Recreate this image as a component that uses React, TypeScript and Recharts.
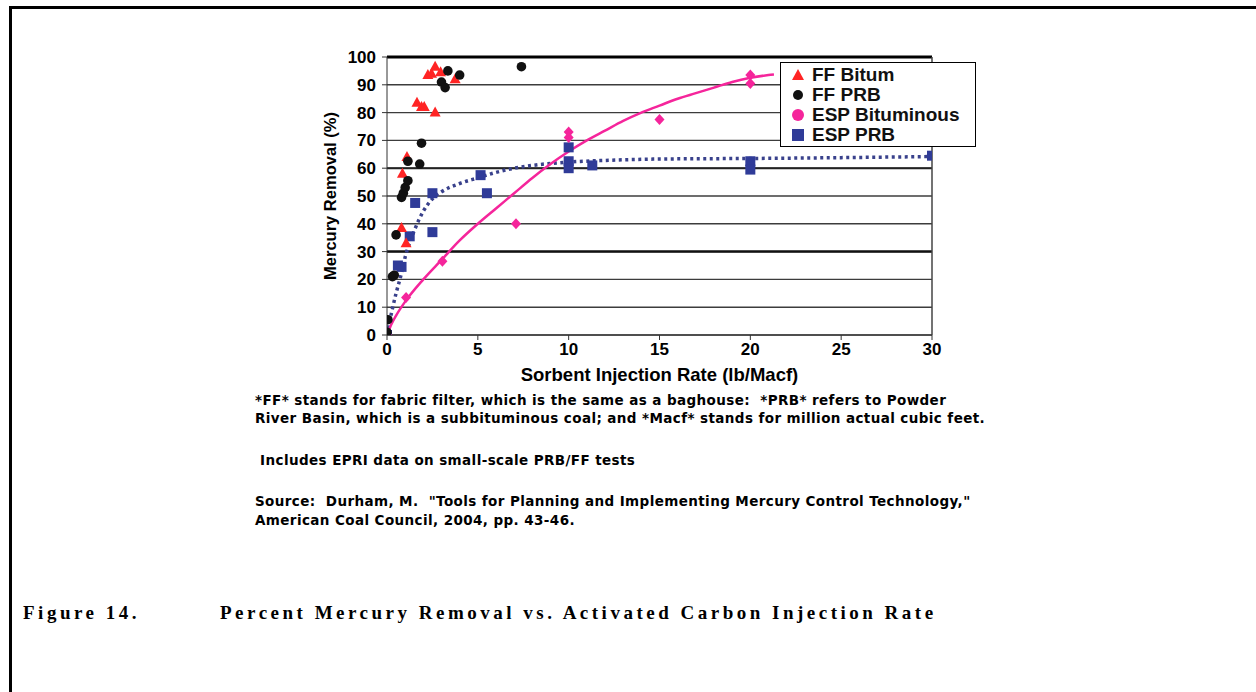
import React from 'react';
import { ComposedChart, Scatter, Line, XAxis, YAxis, CartesianGrid, ReferenceLine } from 'recharts';

const ffBitumRate = [0, 0.8, 1.05, 0.85, 1.1, 1.65, 1.9, 2.05, 2.65, 2.25, 2.45, 2.65, 2.95, 3.75];
const ffBitumRemoval = [0, 38.5, 33, 58, 64, 83.5, 82, 82, 80, 93.5, 94, 96.5, 94.5, 92];

const ffPrbRate = [0, 0.05, 0.3, 0.4, 0.5, 0.8, 0.9, 1.0, 1.15, 1.15, 1.8, 1.9, 3.0, 3.2, 3.35, 4.0, 7.4];
const ffPrbRemoval = [1, 5.5, 21, 21.5, 36, 49.5, 51, 53, 55.5, 62.5, 61.5, 69, 91, 89, 95, 93.5, 96.5];

const espBitRate = [0, 1.05, 3.05, 7.1, 10, 10, 15, 20, 20];
const espBitRemoval = [0, 13.5, 26.5, 40, 73, 71, 77.5, 93.5, 90.5];

const espPrbRate = [0, 0.6, 0.8, 1.25, 1.55, 2.5, 2.5, 5.15, 5.5, 10, 10, 10, 11.3, 20, 20, 30];
const espPrbRemoval = [0, 25, 24.5, 35.5, 47.5, 51, 37, 57.5, 51, 67.5, 62.5, 60, 61, 62.5, 59.5, 64.5];

// trend lines as drawn in the figure
const espBitTrendRate = [0, 0.25, 0.5, 1, 2, 3, 4, 5, 6, 7, 8, 9, 10, 11, 12, 13, 14, 15, 16, 17, 18, 19, 20, 21, 21.3];
const espBitTrendRemoval = [0, 4, 7, 12, 20, 27, 34, 40, 45.5, 51, 56.5, 61.5, 66, 70, 73.5, 77, 80, 82.5, 85, 87, 89, 91, 92.5, 93.5, 93.7];

const espPrbTrendRate = [0, 0.25, 0.5, 0.75, 1, 1.5, 2, 2.5, 3, 4, 5, 6, 7, 8, 10, 12, 15, 20, 25, 30];
const espPrbTrendRemoval = [0, 8, 15, 21, 28, 37.5, 44.5, 49, 51.5, 54.5, 56.5, 58.5, 60, 61, 62.2, 62.8, 63.3, 63.5, 63.8, 64.2];

const xTicks = [0, 5, 10, 15, 20, 25, 30];
const yTicks = [0, 10, 20, 30, 40, 50, 60, 70, 80, 90, 100];

const legendItems = ['FF Bitum', 'FF PRB', 'ESP Bituminous', 'ESP PRB'];

const notes = [
  '*FF* stands for fabric filter, which is the same as a baghouse:  *PRB* refers to Powder',
  'River Basin, which is a subbituminous coal; and *Macf* stands for million actual cubic feet.',
  ' Includes EPRI data on small-scale PRB/FF tests',
  'Source:  Durham, M.  "Tools for Planning and Implementing Mercury Control Technology,"',
  'American Coal Council, 2004, pp. 43-46.',
];

const pair = (xs: number[], ys: number[]) => xs.map((x, i) => ({ x, y: ys[i] }));

const RED = '#ff2424';
const PINK = '#f5259b';
const NAVY = '#2f3b98';
const SANS = '"Liberation Sans", Arial, sans-serif';
const SERIF = '"Liberation Serif", "Times New Roman", serif';

const Triangle = (p: any) => (
  <polygon points={`${p.cx},${p.cy - 6} ${p.cx - 5.5},${p.cy + 4} ${p.cx + 5.5},${p.cy + 4}`} fill={RED} />
);
const Dot = (p: any) => <circle cx={p.cx} cy={p.cy} r={4.8} fill="#111" />;
const Diamond = (p: any) => (
  <polygon points={`${p.cx},${p.cy - 5.5} ${p.cx + 5},${p.cy} ${p.cx},${p.cy + 5.5} ${p.cx - 5},${p.cy}`} fill={PINK} />
);
const Square = (p: any) => <rect x={p.cx - 5} y={p.cy - 5} width={10} height={10} fill={NAVY} />;

function LegendBox() {
  const marks = [
    <polygon key="t" points="7,1 1,12 13,12" fill={RED} />,
    <circle key="c" cx={7} cy={7} r={5} fill="#111" />,
    <circle key="d" cx={7} cy={7} r={6} fill={PINK} />,
    <rect key="s" x={1} y={1} width={12} height={12} fill={NAVY} />,
  ];
  return (
    <div style={{ position: 'absolute', left: 780, top: 62, width: 194, height: 81, border: '1.5px solid #000', background: '#fff', paddingTop: 1.5 }}>
      {legendItems.map((name, i) => (
        <div key={name} style={{ display: 'flex', alignItems: 'center', height: 20 }}>
          <svg width={14} height={14} style={{ marginLeft: 10, marginRight: 7 }}>{marks[i]}</svg>
          <span style={{ fontFamily: SANS, fontWeight: 'bold', fontSize: 19, color: '#111' }}>{name}</span>
        </div>
      ))}
    </div>
  );
}

export default function App() {
  const tick = { fill: '#000', fontSize: 17, fontWeight: 'bold', fontFamily: SANS };
  const noteTops = [391, 409, 451, 492, 511];
  return (
    <div style={{ position: 'absolute', left: 0, top: 0, width: 1256, height: 692, overflow: 'hidden', background: '#fff' }}>
      <div style={{ position: 'absolute', left: 9, top: 6, width: 1300, height: 720, borderLeft: '3px solid #000', borderTop: '3px solid #000' }} />
      <div style={{ position: 'absolute', left: 260, top: 36 }}>
        <ComposedChart width={700} height={360} margin={{ top: 21, right: 28, bottom: 31, left: 13 }}>
          <CartesianGrid vertical={false} stroke="#3c3c3c" strokeWidth={1.4} />
          <XAxis
            dataKey="x"
            type="number"
            domain={[0, 30]}
            ticks={xTicks}
            tick={tick}
            tickSize={5}
            tickMargin={3}
            height={30}
            stroke="#333"
            allowDataOverflow
            label={{ value: 'Sorbent Injection Rate (lb/Macf)', position: 'bottom', offset: 3, fill: '#000', fontSize: 18.5, fontWeight: 'bold', fontFamily: SANS }}
          />
          <YAxis
            dataKey="y"
            type="number"
            domain={[0, 100]}
            ticks={yTicks}
            tick={tick}
            tickSize={5}
            tickMargin={6}
            width={114}
            stroke="#333"
            allowDataOverflow
            label={{ value: 'Mercury Removal (%)', angle: -90, position: 'center', fill: '#000', fontSize: 16.5, fontWeight: 'bold', fontFamily: SANS }}
          />
          <ReferenceLine y={30} stroke="#111" strokeWidth={2.5} />
          <ReferenceLine y={60} stroke="#222" strokeWidth={2} />
          <ReferenceLine y={100} stroke="#000" strokeWidth={3} />
          <ReferenceLine x={30} stroke="#444" strokeWidth={1.5} />
          <Line data={pair(espPrbTrendRate, espPrbTrendRemoval)} dataKey="y" type="monotone" stroke="#39418c" strokeWidth={3.5} strokeDasharray="3 3.5" dot={false} isAnimationActive={false} />
          <Line data={pair(espBitTrendRate, espBitTrendRemoval)} dataKey="y" type="monotone" stroke={PINK} strokeWidth={2.5} dot={false} isAnimationActive={false} />
          <Scatter name="ESP PRB" data={pair(espPrbRate, espPrbRemoval)} shape={Square} isAnimationActive={false} />
          <Scatter name="ESP Bituminous" data={pair(espBitRate, espBitRemoval)} shape={Diamond} isAnimationActive={false} />
          <Scatter name="FF Bitum" data={pair(ffBitumRate, ffBitumRemoval)} shape={Triangle} isAnimationActive={false} />
          <Scatter name="FF PRB" data={pair(ffPrbRate, ffPrbRemoval)} shape={Dot} isAnimationActive={false} />
        </ComposedChart>
      </div>
      <LegendBox />
      {notes.map((t, i) => (
        <div key={i} style={{ position: 'absolute', left: 255, top: noteTops[i], fontFamily: '"DejaVu Sans", sans-serif', fontWeight: 'bold', fontSize: 13.5, letterSpacing: 0.4, lineHeight: '18px', whiteSpace: 'pre', color: '#000' }}>{t}</div>
      ))}
      <div style={{ position: 'absolute', left: 23, top: 601, fontFamily: SERIF, fontWeight: 'bold', fontSize: 19, letterSpacing: 3.5, whiteSpace: 'pre', lineHeight: '24px' }}>Figure 14.</div>
      <div style={{ position: 'absolute', left: 220, top: 601, fontFamily: SERIF, fontWeight: 'bold', fontSize: 19, letterSpacing: 3.5, whiteSpace: 'pre', lineHeight: '24px' }}>Percent Mercury Removal vs. Activated Carbon Injection Rate</div>
    </div>
  );
}
